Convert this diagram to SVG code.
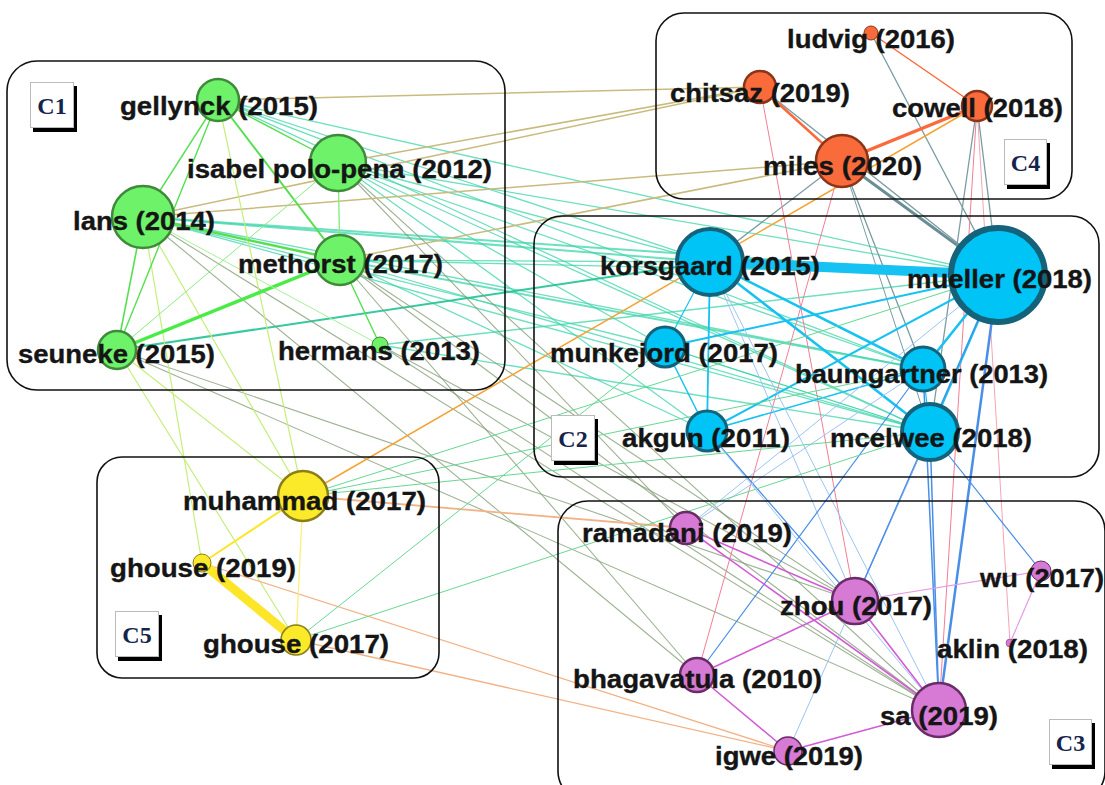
<svg xmlns="http://www.w3.org/2000/svg" width="1105" height="785" viewBox="0 0 1105 785">
<style>
.box{fill:none;stroke:#111;stroke-width:1.6}
.lbl{font-family:"Liberation Sans",Arial,sans-serif;font-weight:bold;font-size:25px;fill:#151515;stroke:#151515;stroke-width:0.35}
.cl{font-family:"Liberation Serif","Times New Roman",serif;font-weight:bold;font-size:24px;fill:#15244d}
.cbox{fill:#fff;stroke:#bbb;stroke-width:1}
.csh{fill:#000}
.g1 circle{fill:#6ef26a;stroke:#3f8a3a;stroke-width:2.5}
.g2 circle{fill:#00c4f6;stroke:#15637a;stroke-width:3}
.g3 circle{fill:#d77ad6;stroke:#6a2c66;stroke-width:2.5}
.g4 circle{fill:#fa6b3c;stroke:#8a3418;stroke-width:2.5}
.g5 circle{fill:#fbea2a;stroke:#8a7e18;stroke-width:2.5}
#edges line{stroke-linecap:round}
.e11{stroke:#56e050;stroke-width:1.4}
.e12{stroke:#3cd6aa;stroke-width:1.3;opacity:.75}
.e13{stroke:#7f9a72;stroke-width:1.1;opacity:.75}
.e14{stroke:#c9bb7e;stroke-width:1.5}
.e15{stroke:#c6ee7c;stroke-width:1.2}
.e22{stroke:#16c2f2;stroke-width:2}
.e23{stroke:#4a8ee8;stroke-width:1.2}
.e23l{stroke:#9cc4f2;stroke-width:1}
.e33{stroke:#d25cd6;stroke-width:1.6}
.e33l{stroke:#e49ae6;stroke-width:1.2}
.e44{stroke:#fb6a3a;stroke-width:2.5}
.e42{stroke:#7a9ca2;stroke-width:1.3}
.e43{stroke:#f27e96;stroke-width:1}
.e55{stroke:#fde62a;stroke-width:2}
.e53{stroke:#f2b286;stroke-width:1.3}
.e52{stroke:#66d894;stroke-width:1}
.e54{stroke:#f5a233;stroke-width:1.5}
</style>
<g id="edges">
<line class="e12" x1="218" y1="100" x2="998" y2="275"/>
<line class="e12" x1="218" y1="100" x2="710" y2="262"/>
<line class="e12" x1="218" y1="100" x2="923" y2="369"/>
<line class="e12" x1="218" y1="100" x2="930" y2="432"/>
<line class="e12" x1="338" y1="163" x2="998" y2="275"/>
<line class="e12" x1="338" y1="163" x2="710" y2="262"/>
<line class="e12" x1="338" y1="163" x2="923" y2="369"/>
<line class="e12" x1="338" y1="163" x2="930" y2="432"/>
<line class="e12" x1="338" y1="163" x2="665" y2="347"/>
<line class="e12" x1="338" y1="163" x2="707" y2="431"/>
<line class="e12" x1="143" y1="217" x2="998" y2="275" style="stroke-width:2"/>
<line class="e12" x1="143" y1="217" x2="710" y2="262" style="stroke-width:2"/>
<line class="e12" x1="143" y1="217" x2="923" y2="369"/>
<line class="e12" x1="143" y1="217" x2="930" y2="432"/>
<line class="e12" x1="143" y1="217" x2="665" y2="347"/>
<line class="e12" x1="340" y1="260" x2="998" y2="275"/>
<line class="e12" x1="340" y1="260" x2="710" y2="262"/>
<line class="e12" x1="340" y1="260" x2="923" y2="369" style="stroke-width:2"/>
<line class="e12" x1="340" y1="260" x2="930" y2="432"/>
<line class="e12" x1="340" y1="260" x2="707" y2="431"/>
<line class="e12" x1="117" y1="350" x2="710" y2="262" style="stroke:#22c494;stroke-width:2;opacity:.9"/>
<line class="e12" x1="380" y1="345" x2="930" y2="432"/>
<line class="e12" x1="380" y1="345" x2="998" y2="275"/>
<line class="e13" x1="338" y1="163" x2="686" y2="528"/>
<line class="e13" x1="340" y1="260" x2="697" y2="675"/>
<line class="e13" x1="143" y1="217" x2="697" y2="675"/>
<line class="e13" x1="143" y1="217" x2="939" y2="710"/>
<line class="e13" x1="340" y1="260" x2="939" y2="710"/>
<line class="e13" x1="340" y1="260" x2="855" y2="601"/>
<line class="e13" x1="380" y1="345" x2="939" y2="710"/>
<line class="e13" x1="380" y1="345" x2="855" y2="601"/>
<line class="e13" x1="338" y1="163" x2="939" y2="710"/>
<line class="e13" x1="117" y1="350" x2="855" y2="601"/>
<line class="e13" x1="117" y1="350" x2="939" y2="710"/>
<line class="e14" x1="218" y1="100" x2="760" y2="87"/>
<line class="e14" x1="143" y1="217" x2="760" y2="87"/>
<line class="e14" x1="338" y1="163" x2="760" y2="87"/>
<line class="e14" x1="143" y1="217" x2="842" y2="161"/>
<line class="e14" x1="340" y1="260" x2="842" y2="161"/>
<line class="e15" x1="218" y1="100" x2="303" y2="496"/>
<line class="e15" x1="143" y1="217" x2="303" y2="496"/>
<line class="e15" x1="117" y1="350" x2="303" y2="496"/>
<line class="e15" x1="117" y1="350" x2="296" y2="640"/>
<line class="e15" x1="143" y1="217" x2="202" y2="563"/>
<line class="e11" x1="218" y1="100" x2="143" y2="217"/>
<line class="e11" x1="218" y1="100" x2="117" y2="350"/>
<line class="e11" x1="218" y1="100" x2="338" y2="163"/>
<line class="e11" x1="218" y1="100" x2="340" y2="260" style="stroke-width:2"/>
<line class="e11" x1="338" y1="163" x2="340" y2="260" style="stroke:#8aec80"/>
<line class="e11" x1="143" y1="217" x2="340" y2="260" style="stroke-width:2.5"/>
<line class="e11" x1="143" y1="217" x2="117" y2="350" style="stroke-width:1.6"/>
<line class="e11" x1="117" y1="350" x2="340" y2="260" style="stroke:#48ec44;stroke-width:3.5"/>
<line class="e11" x1="117" y1="350" x2="338" y2="163" style="stroke:#8aec80;stroke-width:1"/>
<line class="e11" x1="340" y1="260" x2="380" y2="345"/>
<line class="e11" x1="143" y1="217" x2="380" y2="345" style="stroke:#a8f09a;stroke-width:1"/>
<line class="e42" x1="842" y1="161" x2="998" y2="275" style="stroke-width:3;stroke:#6a8e96"/>
<line class="e42" x1="760" y1="87" x2="998" y2="275"/>
<line class="e42" x1="871" y1="33" x2="998" y2="275"/>
<line class="e42" x1="977" y1="106" x2="998" y2="275"/>
<line class="e42" x1="977" y1="106" x2="930" y2="432"/>
<line class="e42" x1="842" y1="161" x2="710" y2="262"/>
<line class="e42" x1="842" y1="161" x2="923" y2="369"/>
<line class="e42" x1="842" y1="161" x2="930" y2="432" style="stroke-width:1"/>
<line class="e43" x1="760" y1="87" x2="855" y2="601"/>
<line class="e43" x1="842" y1="161" x2="697" y2="675"/>
<line class="e43" x1="977" y1="106" x2="939" y2="710"/>
<line class="e43" x1="977" y1="106" x2="1010" y2="643" style="opacity:.7"/>
<line class="e44" x1="760" y1="87" x2="842" y2="161"/>
<line class="e44" x1="842" y1="161" x2="977" y2="106" style="stroke-width:3.5"/>
<line class="e44" x1="871" y1="33" x2="977" y2="106" style="stroke-width:1.5"/>
<line class="e54" x1="303" y1="496" x2="977" y2="106"/>
<line class="e22" x1="710" y1="262" x2="998" y2="275" style="stroke-width:10"/>
<line class="e22" x1="710" y1="262" x2="923" y2="369" style="stroke-width:2.6"/>
<line class="e22" x1="710" y1="262" x2="930" y2="432" style="stroke-width:2.6"/>
<line class="e22" x1="710" y1="262" x2="707" y2="431" style="stroke-width:1.8"/>
<line class="e22" x1="710" y1="262" x2="665" y2="347" style="stroke-width:1.2"/>
<line class="e22" x1="998" y1="275" x2="665" y2="347"/>
<line class="e22" x1="998" y1="275" x2="707" y2="431"/>
<line class="e22" x1="998" y1="275" x2="923" y2="369" style="stroke-width:2.6"/>
<line class="e22" x1="998" y1="275" x2="930" y2="432" style="stroke-width:2.6"/>
<line class="e22" x1="665" y1="347" x2="707" y2="431" style="stroke-width:1.5"/>
<line class="e22" x1="707" y1="431" x2="923" y2="369" style="stroke-width:1.5"/>
<line class="e22" x1="665" y1="347" x2="930" y2="432" style="stroke:#3cd6aa;stroke-width:1.2"/>
<line class="e22" x1="923" y1="369" x2="930" y2="432" style="stroke-width:1.2"/>
<line class="e23" x1="998" y1="275" x2="939" y2="710" style="stroke-width:2.5"/>
<line class="e23" x1="923" y1="369" x2="939" y2="710" style="stroke-width:1.5"/>
<line class="e23" x1="930" y1="432" x2="939" y2="710" style="stroke-width:1.5"/>
<line class="e23" x1="930" y1="432" x2="855" y2="601"/>
<line class="e23l" x1="710" y1="262" x2="855" y2="601"/>
<line class="e23l" x1="710" y1="262" x2="939" y2="710"/>
<line class="e23" x1="707" y1="431" x2="855" y2="601"/>
<line class="e23" x1="923" y1="369" x2="697" y2="675"/>
<line class="e23l" x1="930" y1="432" x2="788" y2="751"/>
<line class="e23l" x1="998" y1="275" x2="686" y2="528"/>
<line class="e23" x1="930" y1="432" x2="1041" y2="571"/>
<line class="e23l" x1="707" y1="431" x2="939" y2="710"/>
<line class="e23l" x1="923" y1="369" x2="686" y2="528"/>
<line class="e23" x1="998" y1="275" x2="855" y2="601"/>
<line class="e33" x1="686" y1="528" x2="855" y2="601"/>
<line class="e33" x1="686" y1="528" x2="939" y2="710"/>
<line class="e33" x1="855" y1="601" x2="697" y2="675"/>
<line class="e33l" x1="855" y1="601" x2="1041" y2="571"/>
<line class="e33" x1="855" y1="601" x2="939" y2="710"/>
<line class="e33" x1="697" y1="675" x2="788" y2="751"/>
<line class="e33" x1="788" y1="751" x2="939" y2="710"/>
<line class="e33l" x1="1041" y1="571" x2="1010" y2="643"/>
<line class="e53" x1="303" y1="496" x2="686" y2="528" style="stroke-width:1.8"/>
<line class="e53" x1="202" y1="563" x2="788" y2="751"/>
<line class="e53" x1="296" y1="640" x2="788" y2="751"/>
<line class="e52" x1="296" y1="640" x2="665" y2="347"/>
<line class="e52" x1="296" y1="640" x2="930" y2="432"/>
<line class="e52" x1="303" y1="496" x2="998" y2="275"/>
<line class="e52" x1="303" y1="496" x2="930" y2="432"/>
<line class="e52" x1="303" y1="496" x2="923" y2="369"/>
<line class="e55" x1="303" y1="496" x2="202" y2="563"/>
<line class="e55" x1="303" y1="496" x2="296" y2="640" style="stroke:#fbee7a;stroke-width:1.3"/>
<line class="e55" x1="202" y1="563" x2="296" y2="640" style="stroke-width:9"/>
</g>
<g id="clusters">
<rect class="box" x="7" y="61" width="498" height="329" rx="30"/>
<rect class="box" x="656" y="13" width="416" height="186" rx="28"/>
<rect class="box" x="534" y="216" width="565" height="261" rx="28"/>
<rect class="box" x="558" y="501" width="547" height="300" rx="30"/>
<rect class="box" x="97" y="457" width="342" height="221" rx="25"/>
</g>
<g id="cluster-labels">
<g id="label-C1"><rect class="csh" x="33" y="86" width="44" height="46"/><rect class="cbox" x="30.5" y="82.5" width="43" height="45"/><text class="cl" x="52" y="114" text-anchor="middle">C1</text></g>
<g id="label-C4"><rect class="csh" x="1007" y="143" width="43" height="46"/><rect class="cbox" x="1004.5" y="139.5" width="42" height="45"/><text class="cl" x="1025.5" y="171" text-anchor="middle">C4</text></g>
<g id="label-C2"><rect class="csh" x="554" y="419" width="44" height="46"/><rect class="cbox" x="551.5" y="415.5" width="43" height="45"/><text class="cl" x="573" y="447" text-anchor="middle">C2</text></g>
<g id="label-C3"><rect class="csh" x="1052" y="723" width="43" height="46"/><rect class="cbox" x="1049.5" y="719.5" width="42" height="45"/><text class="cl" x="1070.5" y="751" text-anchor="middle">C3</text></g>
<g id="label-C5"><rect class="csh" x="118" y="615" width="44" height="46"/><rect class="cbox" x="115.5" y="611.5" width="43" height="45"/><text class="cl" x="137" y="643" text-anchor="middle">C5</text></g>
</g>
<g id="nodes">
<g id="n-gellynck" class="g1"><circle cx="218" cy="100" r="21"/><text class="lbl" x="120" y="115" textLength="198" lengthAdjust="spacingAndGlyphs">gellynck (2015)</text></g>
<g id="n-isabel" class="g1"><circle cx="338" cy="163" r="28"/><text class="lbl" x="187" y="178" textLength="305" lengthAdjust="spacingAndGlyphs">isabel polo-pena (2012)</text></g>
<g id="n-lans" class="g1"><circle cx="143" cy="217" r="31"/><text class="lbl" x="73" y="230" textLength="142" lengthAdjust="spacingAndGlyphs">lans (2014)</text></g>
<g id="n-methorst" class="g1"><circle cx="340" cy="260" r="25"/><text class="lbl" x="238" y="273" textLength="205" lengthAdjust="spacingAndGlyphs">methorst (2017)</text></g>
<g id="n-seuneke" class="g1"><circle cx="117" cy="350" r="19"/><text class="lbl" x="18" y="363" textLength="197" lengthAdjust="spacingAndGlyphs">seuneke (2015)</text></g>
<g id="n-hermans" class="g1"><circle cx="380" cy="345" r="8" style="stroke-width:1"/><text class="lbl" x="278" y="360" textLength="202" lengthAdjust="spacingAndGlyphs">hermans (2013)</text></g>
<g id="n-ludvig" class="g4"><circle cx="871" cy="33" r="7" style="stroke-width:1"/><text class="lbl" x="787" y="48" textLength="168" lengthAdjust="spacingAndGlyphs">ludvig (2016)</text></g>
<g id="n-chitsaz" class="g4"><circle cx="760" cy="87" r="16"/><text class="lbl" x="670" y="102" textLength="180" lengthAdjust="spacingAndGlyphs">chitsaz (2019)</text></g>
<g id="n-cowell" class="g4"><circle cx="977" cy="106" r="15"/><text class="lbl" x="892" y="117" textLength="171" lengthAdjust="spacingAndGlyphs">cowell (2018)</text></g>
<g id="n-miles" class="g4"><circle cx="842" cy="161" r="26"/><text class="lbl" x="763" y="175" textLength="159" lengthAdjust="spacingAndGlyphs">miles (2020)</text></g>
<g id="n-korsgaard" class="g2"><circle cx="710" cy="262" r="33" style="stroke-width:4"/><text class="lbl" x="600" y="275" textLength="220" lengthAdjust="spacingAndGlyphs">korsgaard (2015)</text></g>
<g id="n-mueller" class="g2"><circle cx="998" cy="275" r="47" style="stroke-width:6"/><text class="lbl" x="907" y="288" textLength="185" lengthAdjust="spacingAndGlyphs">mueller (2018)</text></g>
<g id="n-munkejord" class="g2"><circle cx="665" cy="347" r="20"/><text class="lbl" x="550" y="362" textLength="228" lengthAdjust="spacingAndGlyphs">munkejord (2017)</text></g>
<g id="n-baumgartner" class="g2"><circle cx="923" cy="369" r="22"/><text class="lbl" x="795" y="383" textLength="253" lengthAdjust="spacingAndGlyphs">baumgartner (2013)</text></g>
<g id="n-akgun" class="g2"><circle cx="707" cy="431" r="20"/><text class="lbl" x="622" y="447" textLength="168" lengthAdjust="spacingAndGlyphs">akgun (2011)</text></g>
<g id="n-mcelwee" class="g2"><circle cx="930" cy="432" r="28" style="stroke-width:4"/><text class="lbl" x="830" y="447" textLength="202" lengthAdjust="spacingAndGlyphs">mcelwee (2018)</text></g>
<g id="n-ramadani" class="g3"><circle cx="686" cy="528" r="16"/><text class="lbl" x="582" y="542" textLength="210" lengthAdjust="spacingAndGlyphs">ramadani (2019)</text></g>
<g id="n-zhou" class="g3"><circle cx="855" cy="601" r="23"/><text class="lbl" x="780" y="615" textLength="152" lengthAdjust="spacingAndGlyphs">zhou (2017)</text></g>
<g id="n-wu" class="g3"><circle cx="1041" cy="571" r="10" style="stroke-width:1"/><text class="lbl" x="980" y="587" textLength="124" lengthAdjust="spacingAndGlyphs">wu (2017)</text></g>
<g id="n-aklin" class="g3"><circle cx="1010" cy="643" r="4" style="stroke-width:0.5"/><text class="lbl" x="937" y="658" textLength="151" lengthAdjust="spacingAndGlyphs">aklin (2018)</text></g>
<g id="n-bhagavatula" class="g3"><circle cx="697" cy="675" r="17"/><text class="lbl" x="573" y="688" textLength="249" lengthAdjust="spacingAndGlyphs">bhagavatula (2010)</text></g>
<g id="n-sa" class="g3"><circle cx="939" cy="710" r="27"/><text class="lbl" x="880" y="725" textLength="118" lengthAdjust="spacingAndGlyphs">sa (2019)</text></g>
<g id="n-igwe" class="g3"><circle cx="788" cy="751" r="14" style="stroke-width:1.5"/><text class="lbl" x="715" y="765" textLength="148" lengthAdjust="spacingAndGlyphs">igwe (2019)</text></g>
<g id="n-muhammad" class="g5"><circle cx="303" cy="496" r="25"/><text class="lbl" x="183" y="510" textLength="243" lengthAdjust="spacingAndGlyphs">muhammad (2017)</text></g>
<g id="n-ghouse2019" class="g5"><circle cx="202" cy="563" r="9" style="stroke-width:1"/><text class="lbl" x="110" y="577" textLength="186" lengthAdjust="spacingAndGlyphs">ghouse (2019)</text></g>
<g id="n-ghouse2017" class="g5"><circle cx="296" cy="640" r="15" style="stroke-width:1.5"/><text class="lbl" x="203" y="653" textLength="186" lengthAdjust="spacingAndGlyphs">ghouse (2017)</text></g>
</g>
</svg>
